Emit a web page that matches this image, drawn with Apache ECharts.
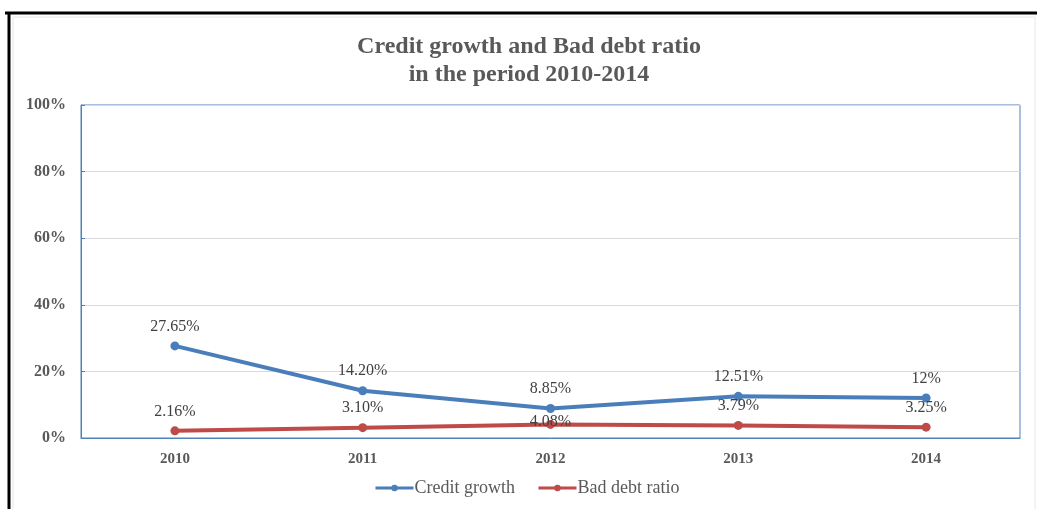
<!DOCTYPE html>
<html>
<head>
<meta charset="utf-8">
<script src="https://cdn.jsdelivr.net/npm/echarts@6/dist/echarts.min.js"></script>
<style>
html,body{margin:0;padding:0;background:#fff;}
#chart{width:1037px;height:509px;}
</style>
</head>
<body>
<div id="chart"></div>
<script>
var titleText = 'Credit growth and Bad debt ratio\nin the period 2010-2014';
var categories = ['2010', '2011', '2012', '2013', '2014'];
var creditGrowth = [27.65, 14.20, 8.85, 12.51, 12];
var creditLabels = ['27.65%', '14.20%', '8.85%', '12.51%', '12%'];
var badDebt = [2.16, 3.10, 4.08, 3.79, 3.25];
var badDebtLabels = ['2.16%', '3.10%', '4.08%', '3.79%', '3.25%'];
var yTicks = [0, 20, 40, 60, 80, 100];

var serif = '"Liberation Serif", "DejaVu Serif", serif';
var chart = echarts.init(document.getElementById('chart'));

function mkData(vals, labels, special) {
  return vals.map(function (v, i) {
    var d = { value: v, label: { formatter: labels[i] } };
    if (special && special[i] != null) d.label.offset = [0, special[i]];
    return d;
  });
}

chart.setOption({
  animation: false,
  backgroundColor: '#ffffff',
  grid: { left: 81, right: 17, top: 105, bottom: 71, show: true, borderColor: '#4f81bd', borderWidth: 1, backgroundColor: 'transparent' },
  legend: {
    bottom: 7,
    left: 369,
    itemWidth: 38,
    itemHeight: 8,
    itemGap: 22,
    lineStyle: { width: 3 },
    textStyle: { fontFamily: serif, fontSize: 18, color: '#595959', padding: [0, 0, 0, -4] },
    data: ['Credit growth', 'Bad debt ratio']
  },
  xAxis: {
    type: 'category',
    data: categories,
    boundaryGap: true,
    axisLine: { lineStyle: { color: '#4f81bd', width: 1 } },
    axisTick: { show: false },
    axisLabel: { fontFamily: serif, fontSize: 15, fontWeight: 'bold', color: '#595959', margin: 14 }
  },
  yAxis: {
    type: 'value',
    min: 0, max: 100, interval: 20,
    axisLine: { show: true, lineStyle: { color: '#4f81bd', width: 1 } },
    axisTick: { show: true, inside: true, length: 4, lineStyle: { color: '#4f81bd' } },
    splitLine: { lineStyle: { color: '#d9d9d9', width: 1 } },
    axisLabel: {
      fontFamily: serif, fontSize: 16, fontWeight: 'bold', color: '#595959', margin: 15,
      formatter: function (v) { return yTicks.indexOf(v) >= 0 ? v + '%' : ''; }
    }
  },
  series: [
    {
      name: 'Credit growth',
      type: 'line',
      data: mkData(creditGrowth, creditLabels),
      color: '#4a7ebb',
      lineStyle: { width: 4, color: '#4a7ebb' },
      symbol: 'circle', symbolSize: 9,
      itemStyle: { color: '#4a7ebb' },
      label: { show: true, position: 'top', distance: 7, fontFamily: serif, fontSize: 16, color: '#404040' }
    },
    {
      name: 'Bad debt ratio',
      type: 'line',
      data: mkData(badDebt, badDebtLabels, [null, null, 17, null, null]),
      color: '#be4b48',
      lineStyle: { width: 4, color: '#be4b48' },
      symbol: 'circle', symbolSize: 9,
      itemStyle: { color: '#be4b48' },
      label: { show: true, position: 'top', distance: 7, fontFamily: serif, fontSize: 16, color: '#404040' }
    }
  ],
  graphic: [
    { type: 'rect', shape: { x: 13, y: 17, width: 1022, height: 500 }, style: { fill: 'none', stroke: '#e6e6e6', lineWidth: 1 }, silent: true },
    { type: 'line', shape: { x1: 5, y1: 13, x2: 1037, y2: 13 }, style: { stroke: '#000', lineWidth: 3 }, silent: true },
    { type: 'line', shape: { x1: 9, y1: 12, x2: 9, y2: 509 }, style: { stroke: '#000', lineWidth: 3 }, silent: true },
    {
      type: 'text', x: 529, y: 33, silent: true,
      style: {
        text: titleText, textAlign: 'center', textVerticalAlign: 'top',
        font: 'bold 24px "Liberation Serif", serif', lineHeight: 28, fill: '#595959'
      }
    }
  ]
});
</script>
</body>
</html>
